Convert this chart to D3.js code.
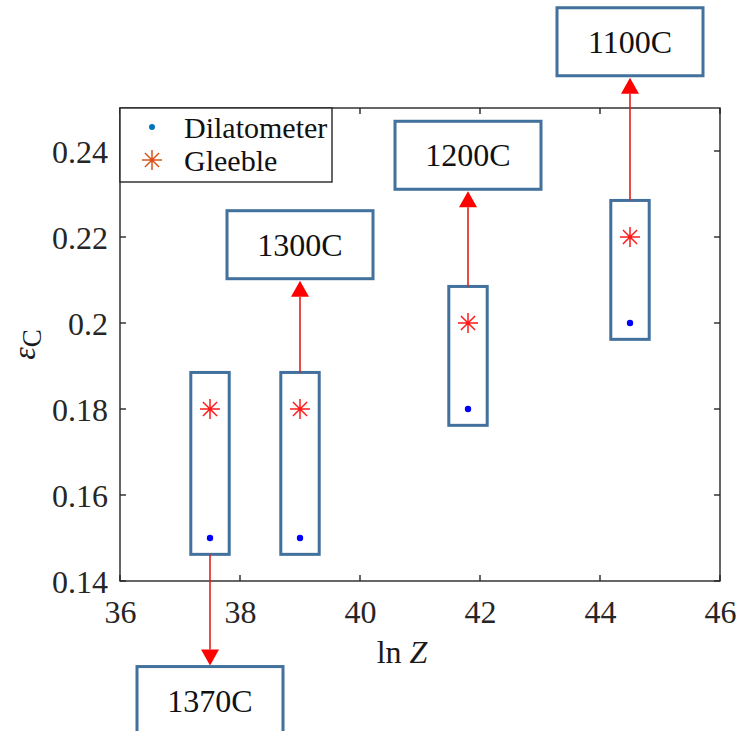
<!DOCTYPE html>
<html>
<head>
<meta charset="utf-8">
<script src="https://cdn.jsdelivr.net/npm/d3@7"></script>
<style>
  html, body { margin: 0; padding: 0; background: #fff; }
  svg { display: block; font-family: "Liberation Serif", "Times New Roman", serif; }
</style>
</head>
<body>
<svg id="chart" width="738" height="731"></svg>
<script>
// Critical strain vs. Zener-Hollomon parameter, per test temperature
const xTicks = [36, 38, 40, 42, 44, 46];
const yTicks = [0.14, 0.16, 0.18, 0.2, 0.22, 0.24];
const yTickLabels = ["0.14", "0.16", "0.18", "0.2", "0.22", "0.24"];
const lnZ = [37.5, 39, 41.8, 44.5];
const dilatometer = [0.15, 0.15, 0.18, 0.2];
const gleeble = [0.18, 0.18, 0.2, 0.22];
const temperatures = ["1370C", "1300C", "1200C", "1100C"];
// strain level at which each temperature callout meets its arrow
const calloutAnchor = [0.1201, 0.2103, 0.2311, 0.2575];

const svg = d3.select("#chart");
const plot = { left: 120, right: 720, top: 108, bottom: 581 };

const x = d3.scaleLinear().domain([36, 46]).range([plot.left, plot.right]);
const y = d3.scaleLinear().domain([0.14, 0.25]).range([plot.bottom, plot.top]);

const axisColor = "#262626";
const tickLen = 6;

// axes with inward ticks on all four sides
const axisB = d3.axisBottom(x).tickValues(xTicks).tickSize(0).tickPadding(20).tickFormat(d3.format("d"));
const axisL = d3.axisLeft(y).tickValues(yTicks).tickSize(0).tickPadding(12).tickFormat((d, i) => yTickLabels[i]);

const gB = svg.append("g").attr("transform", `translate(0,${plot.bottom})`).call(axisB);
const gL = svg.append("g").attr("transform", `translate(${plot.left},0)`).call(axisL);
[gB, gL].forEach(g => {
  g.select(".domain").remove();
  g.selectAll("text").attr("fill", axisColor).style("font-size", "32px")
    .style("font-family", "'Liberation Serif', serif");
});
gB.selectAll("text").attr("dy", "0.7em");
gL.selectAll("text").attr("dy", "0.35em");

const frame = svg.append("g").attr("stroke", axisColor).attr("stroke-width", 1.4).attr("fill", "none");
frame.append("rect")
  .attr("x", plot.left).attr("y", plot.top)
  .attr("width", plot.right - plot.left).attr("height", plot.bottom - plot.top);
xTicks.forEach(t => {
  frame.append("line").attr("x1", x(t)).attr("x2", x(t)).attr("y1", plot.bottom).attr("y2", plot.bottom - tickLen);
  frame.append("line").attr("x1", x(t)).attr("x2", x(t)).attr("y1", plot.top).attr("y2", plot.top + tickLen);
});
yTicks.forEach(t => {
  frame.append("line").attr("y1", y(t)).attr("y2", y(t)).attr("x1", plot.left).attr("x2", plot.left + tickLen);
  frame.append("line").attr("y1", y(t)).attr("y2", y(t)).attr("x1", plot.right).attr("x2", plot.right - tickLen);
});

// axis titles
svg.append("text")
  .attr("x", 402).attr("y", 663).attr("text-anchor", "middle")
  .attr("fill", "#1a1a1a").style("font-size", "32px")
  .html('ln<tspan font-style="italic" dx="8">Z</tspan>');

svg.append("text")
  .attr("transform", `translate(35,${(plot.top + plot.bottom) / 2}) rotate(-90)`)
  .attr("text-anchor", "middle").attr("fill", "#1a1a1a").style("font-size", "32px")
  .html('<tspan font-style="italic">ε</tspan><tspan font-size="27px" dy="6">C</tspan>');

// asterisk marker path (plus + cross)
function asteriskPath(r) {
  const d = r * Math.SQRT1_2;
  return `M${-r},0L${r},0M0,${-r}L0,${r}M${-d},${-d}L${d},${d}M${-d},${d}L${d},${-d}`;
}

const rows = lnZ.map((v, i) => ({ z: v, dil: dilatometer[i], glb: gleeble[i], temp: temperatures[i], anchor: calloutAnchor[i] }));

// grouping boxes around each pair of measurements
const boxColor = "#41719C";
const boxHalfW = 0.32, padTop = 0.0085, padBot = 0.0038;
svg.append("g").selectAll("rect").data(rows).join("rect")
  .attr("x", d => x(d.z - boxHalfW))
  .attr("y", d => y(d.glb + padTop))
  .attr("width", d => x(d.z + boxHalfW) - x(d.z - boxHalfW))
  .attr("height", d => y(d.dil - padBot) - y(d.glb + padTop))
  .attr("fill", "none").attr("stroke", boxColor).attr("stroke-width", 3);

// measurements
svg.append("g").selectAll("circle").data(rows).join("circle")
  .attr("cx", d => x(d.z)).attr("cy", d => y(d.dil)).attr("r", 3.2).attr("fill", "#0000ff");
svg.append("g").selectAll("path").data(rows).join("path")
  .attr("transform", d => `translate(${x(d.z)},${y(d.glb)})`)
  .attr("d", asteriskPath(10)).attr("stroke", "#ff1a1a").attr("stroke-width", 1.5).attr("fill", "none");

// arrows to temperature callouts
const arrowColor = "#ff0000";
const headLen = 16, headHalf = 9;
const arrows = svg.append("g");
rows.forEach(d => {
  const cx = x(d.z);
  const up = d.anchor > d.glb;
  const start = up ? y(d.glb + padTop) : y(d.dil - padBot);
  const tip = up ? y(d.anchor) + 2 : y(d.anchor) - 1;
  const s = up ? 1 : -1;
  arrows.append("line").attr("x1", cx).attr("x2", cx).attr("y1", start).attr("y2", tip + s * headLen)
    .attr("stroke", "#e02020").attr("stroke-width", 1.6);
  arrows.append("path")
    .attr("d", `M${cx},${tip}L${cx - headHalf},${tip + s * headLen}L${cx + headHalf},${tip + s * headLen}Z`)
    .attr("fill", arrowColor);
});

// temperature callout boxes
const calloutW = 146, calloutH = 68;
const callouts = svg.append("g").selectAll("g").data(rows).join("g")
  .attr("transform", d => {
    const up = d.anchor > d.glb;
    const top = up ? y(d.anchor) - calloutH : y(d.anchor);
    return `translate(${x(d.z) - calloutW / 2},${top})`;
  });
callouts.append("rect").attr("width", calloutW).attr("height", calloutH)
  .attr("fill", "#fff").attr("stroke", boxColor).attr("stroke-width", 3);
callouts.append("text").attr("x", calloutW / 2).attr("y", calloutH / 2).attr("dy", "0.35em")
  .attr("text-anchor", "middle").attr("fill", "#111").style("font-size", "32px")
  .text(d => d.temp);

// legend
const legend = svg.append("g").attr("transform", "translate(120,108)");
legend.append("rect").attr("width", 212).attr("height", 74)
  .attr("fill", "#fff").attr("stroke", axisColor).attr("stroke-width", 1.4);
legend.append("circle").attr("cx", 32).attr("cy", 19).attr("r", 3).attr("fill", "#0072BD");
legend.append("path").attr("transform", "translate(32,52)").attr("d", asteriskPath(10))
  .attr("stroke", "#D95319").attr("stroke-width", 1.5).attr("fill", "none");
legend.append("text").attr("x", 64).attr("y", 19).attr("dy", "0.35em")
  .attr("fill", "#111").style("font-size", "30px").text("Dilatometer");
legend.append("text").attr("x", 64).attr("y", 52).attr("dy", "0.35em")
  .attr("fill", "#111").style("font-size", "30px").text("Gleeble");
</script>
</body>
</html>
